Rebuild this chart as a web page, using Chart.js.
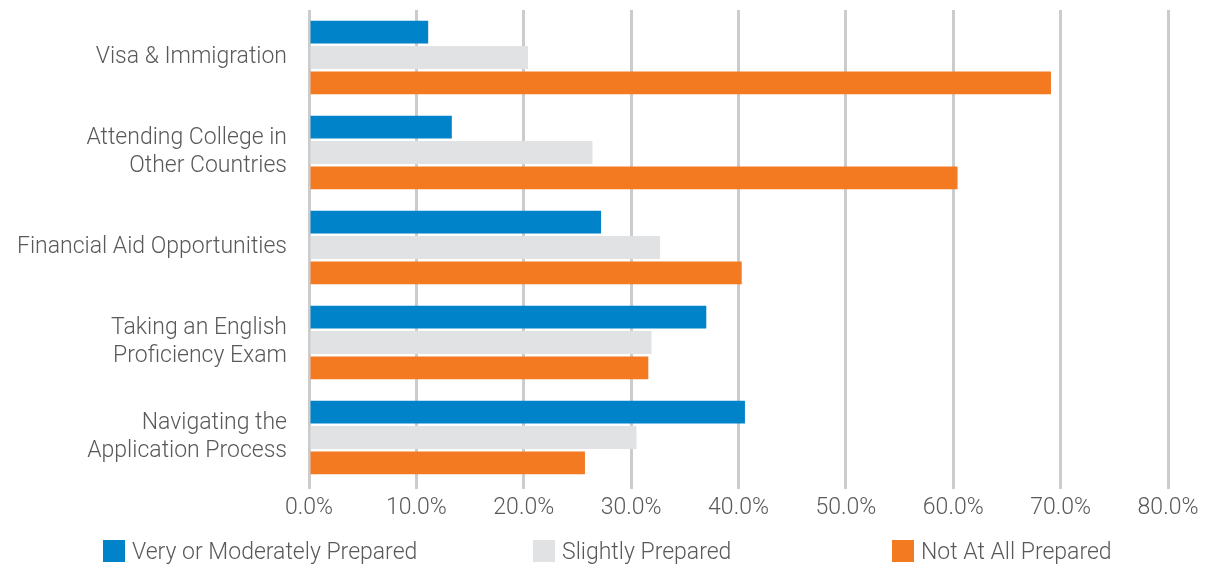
<!DOCTYPE html>
<html>
<head>
<meta charset="utf-8">
<script src="https://cdn.jsdelivr.net/npm/chart.js@4.4.1/dist/chart.umd.min.js"></script>
<style>
  html, body { margin: 0; padding: 0; background: #fff; }
  #wrap { position: relative; width: 1210px; height: 568px; }
  #legend { position: absolute; left: 0; top: 540px; width: 1210px; height: 24px;
            font-family: Roboto, sans-serif; font-weight: 300; font-size: 23px; color: #595959; }
  .item { position: absolute; top: 0; display: flex; align-items: center; height: 22px; white-space: nowrap; }
  .box { width: 22px; height: 22px; margin-right: 7px; }
</style>
</head>
<body>
<div id="wrap">
  <canvas id="prepChart" width="1210" height="568"></canvas>
  <div id="legend"></div>
</div>
<script>
const categories = [
  'Visa & Immigration',
  ['Attending College in', 'Other Countries'],
  'Financial Aid Opportunities',
  ['Taking an English', 'Proficiency Exam'],
  ['Navigating the', 'Application Process']
];
const seriesNames = ['Very or Moderately Prepared', 'Slightly Prepared', 'Not At All Prepared'];
const veryPrepared = [11.1, 13.3, 27.2, 37.0, 40.6];
const slightlyPrepared = [20.4, 26.4, 32.7, 31.9, 30.5];
const notPrepared = [69.1, 60.4, 40.3, 31.6, 25.7];
const colors = ['#0083c9', '#e1e2e4', '#f47a22'];
const legendLeft = [103, 533, 892];

const textColor = '#595959';
Chart.defaults.font.family = 'Roboto, sans-serif';
Chart.defaults.font.weight = 300;
Chart.defaults.font.size = 23;
Chart.defaults.color = textColor;

const ctx = document.getElementById('prepChart').getContext('2d');
const chart = new Chart(ctx, {
  type: 'bar',
  data: {
    labels: categories,
    datasets: [
      { label: seriesNames[0], data: veryPrepared, backgroundColor: colors[0] },
      { label: seriesNames[1], data: slightlyPrepared, backgroundColor: colors[1] },
      { label: seriesNames[2], data: notPrepared, backgroundColor: colors[2] }
    ]
  },
  options: {
    indexAxis: 'y',
    responsive: false,
    animation: false,
    categoryPercentage: 0.8,
    barPercentage: 0.9,
    layout: { padding: { top: 10, right: 42, bottom: 43, left: 0 } },
    plugins: {
      legend: { display: false },
      tooltip: { enabled: false }
    },
    scales: {
      x: {
        min: 0,
        max: 80,
        ticks: {
          stepSize: 10,
          padding: 5,
          callback: v => v.toFixed(1) + '%'
        },
        grid: { color: '#cccccc', lineWidth: 3, tickLength: 4 },
        border: { display: false },
        afterFit: s => { s.height = 40; }
      },
      y: {
        ticks: { padding: 14, font: { lineHeight: 1.22 } },
        grid: { display: false },
        border: { display: false },
        afterFit: s => { s.width = 309; s.paddingTop = 0; s.paddingBottom = 0; }
      }
    }
  }
});

// legend laid out like the original, built from the datasets
const legend = document.getElementById('legend');
chart.data.datasets.forEach((ds, i) => {
  const item = document.createElement('div');
  item.className = 'item';
  item.style.left = legendLeft[i] + 'px';
  item.innerHTML = '<span class="box" style="background:' + ds.backgroundColor + '"></span>' + ds.label;
  legend.appendChild(item);
});
</script>
</body>
</html>
